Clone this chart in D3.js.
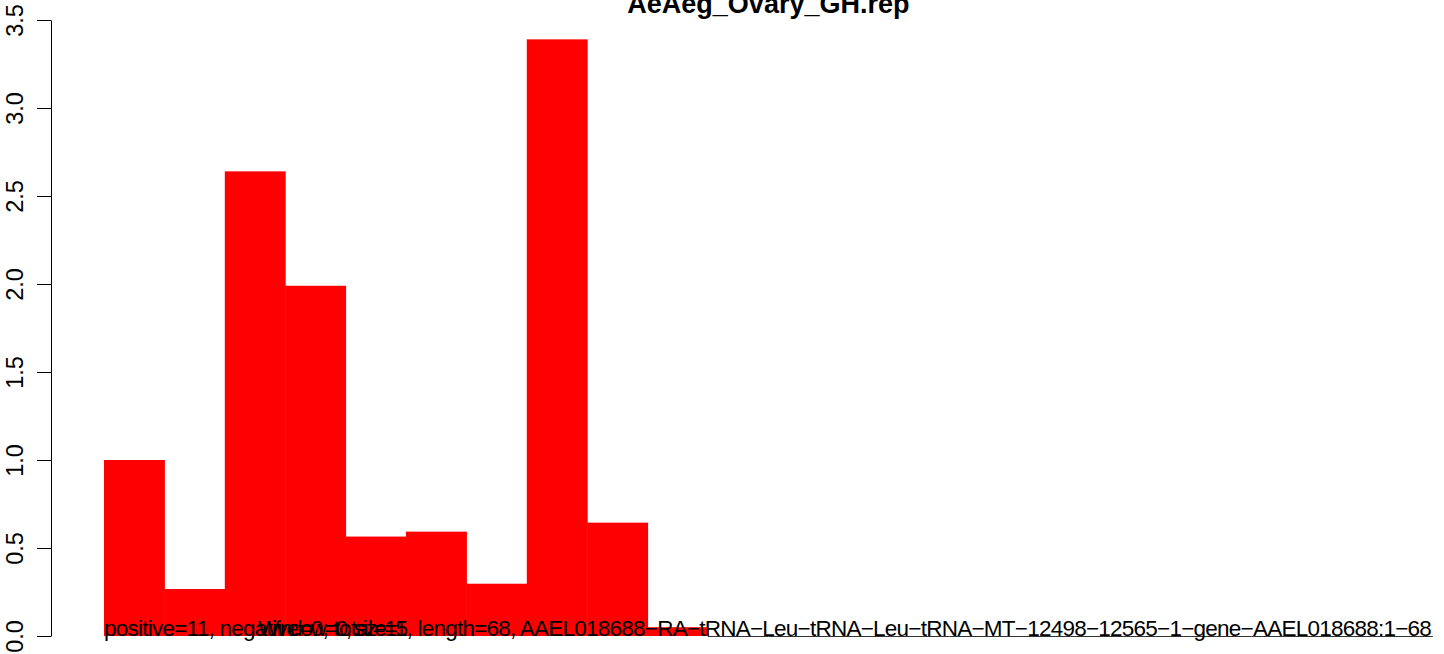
<!DOCTYPE html>
<html>
<head>
<meta charset="utf-8">
<script src="https://cdn.jsdelivr.net/npm/d3@7"></script>
<style>
  html, body { margin: 0; padding: 0; background: #fff; }
  svg { display: block; font-family: "Liberation Sans", Arial, sans-serif; }
</style>
</head>
<body>
<div id="chart"></div>
<script>
const W = 1444, H = 654;

// window bins along the read, value per window (rest are empty)
const bins = d3.range(22);
const values = [1.0, 0.267, 2.64, 1.99, 0.565, 0.593, 0.297, 3.39, 0.644, 0.05,
  0, 0, 0, 0, 0, 0, 0, 0, 0, 0, 0, 0];
const yTicks = [0, 0.5, 1.0, 1.5, 2.0, 2.5, 3.0, 3.5];

const title = 'AeAeg_Ovary_GH.rep';
const infoText = 'positive=11, negative=0, total=11, length=68, AAEL018688\u2212RA\u2212tRNA\u2212Leu\u2212tRNA\u2212Leu\u2212tRNA\u2212MT\u221212498\u221212565\u22121\u2212gene\u2212AAEL018688:1\u221268';
const windowText = 'Window=0, size=5';
const windowTextAt = 2.55; // in bin units

const plot = { left: 104, right: 1432.8, top: 20, bottom: 636 };

const svg = d3.select('#chart')
  .append('svg')
  .attr('width', W)
  .attr('height', H);

const x = d3.scaleBand()
  .domain(bins)
  .range([plot.left, plot.right])
  .padding(0);

const xPos = d3.scaleLinear()
  .domain([0, bins.length])
  .range([plot.left, plot.right]);

const y = d3.scaleLinear()
  .domain([0, 3.5])
  .range([plot.bottom, plot.top]);

// bars
svg.append('g')
  .selectAll('rect')
  .data(bins.filter(i => values[i] > 0))
  .join('rect')
  .attr('x', i => x(i))
  .attr('y', i => y(values[i]))
  .attr('width', x.bandwidth() + 0.5)
  .attr('height', i => y(0) - y(values[i]))
  .attr('fill', '#ff0000');

// empty windows show as a flat line
svg.append('g')
  .selectAll('line')
  .data(bins.filter(i => values[i] === 0))
  .join('line')
  .attr('x1', i => x(i))
  .attr('x2', i => x(i) + x.bandwidth())
  .attr('y1', y(0) + 0.5)
  .attr('y2', y(0) + 0.5)
  .attr('stroke', '#333')
  .attr('stroke-width', 1);

// y axis
const yAxis = svg.append('g')
  .attr('transform', 'translate(51,0)')
  .call(d3.axisLeft(y).tickValues(yTicks).tickFormat(d3.format('.1f')).tickSize(14).tickSizeOuter(0));

yAxis.select('.domain').attr('stroke', '#000');
yAxis.selectAll('.tick line').attr('stroke', '#000');
yAxis.selectAll('.tick text')
  .attr('x', null)
  .attr('dy', null)
  .attr('transform', 'translate(-28.5,0) rotate(-90)')
  .attr('text-anchor', 'middle')
  .attr('fill', '#000')
  .style('font-size', '23.5px')
  .style('font-family', '"Liberation Sans", Arial, sans-serif');

// title
svg.append('text')
  .attr('x', (plot.left + plot.right) / 2)
  .attr('y', 13)
  .attr('text-anchor', 'middle')
  .style('font-size', '27px')
  .style('font-weight', 'bold')
  .text(title);

// annotations at the baseline
svg.append('text')
  .attr('x', xPos(0))
  .attr('y', y(0))
  .style('font-size', '22.5px')
  .attr('fill', '#000')
  .attr('textLength', plot.right - plot.left - 1)
  .attr('lengthAdjust', 'spacing')
  .text(infoText);

svg.append('text')
  .attr('x', xPos(windowTextAt))
  .attr('y', y(0))
  .style('font-size', '22.5px')
  .attr('fill', '#000')
  .attr('textLength', 150)
  .attr('lengthAdjust', 'spacing')
  .text(windowText);
</script>
</body>
</html>
